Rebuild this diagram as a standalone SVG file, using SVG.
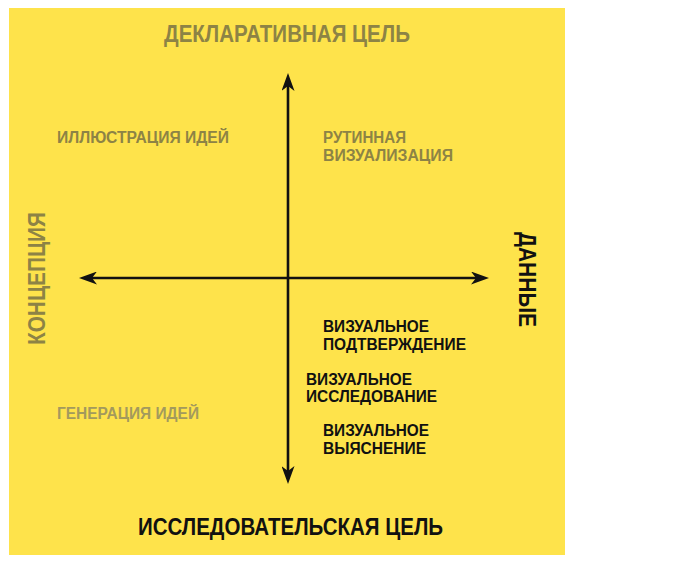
<svg xmlns="http://www.w3.org/2000/svg" width="678" height="565" viewBox="0 0 678 565">
  <style>
    .t { font-family: "Liberation Sans", Arial, sans-serif; font-weight: bold; }
    .big { font-size: 23.5px; }
    .sm { font-size: 16px; }
    .grey { fill: #8d8345; }
    .grey2 { fill: #a39a5d; }
    .blk { fill: #111111; }
    .axis { stroke: #111111; stroke-width: 2.6; fill: none; marker-end: url(#ah); marker-start: url(#ah); }
  </style>
  <defs>
    <marker id="ah" viewBox="0 -6.5 18 13" refX="5" refY="0" markerWidth="18" markerHeight="13" markerUnits="userSpaceOnUse" orient="auto-start-reverse">
      <path d="M0,-6.5 L18,0 L0,6.5 L5,0 Z" fill="#111111"/>
    </marker>
  </defs>
  <rect x="0" y="0" width="678" height="565" fill="#ffffff"/>
  <rect x="9" y="8" width="556" height="547" fill="#fee34b"/>

  <g id="connectors">
    <line class="axis" x1="288" y1="86" x2="288" y2="471"/>
    <line class="axis" x1="92" y1="278" x2="476" y2="278"/>
  </g>

  <g id="declarative-goal">
    <text class="t big grey" x="164" y="42" textLength="246" lengthAdjust="spacingAndGlyphs">ДЕКЛАРАТИВНАЯ ЦЕЛЬ</text>
  </g>
  <g id="exploratory-goal">
    <text class="t big blk" x="138" y="535" textLength="305" lengthAdjust="spacingAndGlyphs">ИССЛЕДОВАТЕЛЬСКАЯ ЦЕЛЬ</text>
  </g>
  <g id="concept">
    <text class="t big grey" transform="translate(45 278.5) rotate(-90)" x="-66.5" y="0" textLength="133" lengthAdjust="spacingAndGlyphs">КОНЦЕПЦИЯ</text>
  </g>
  <g id="data">
    <text class="t big blk" transform="translate(519 279.5) rotate(90)" x="-47.5" y="0" textLength="95" lengthAdjust="spacingAndGlyphs">ДАННЫЕ</text>
  </g>

  <g id="idea-illustration">
    <text class="t sm grey" x="57" y="143" textLength="172" lengthAdjust="spacingAndGlyphs">ИЛЛЮСТРАЦИЯ ИДЕЙ</text>
  </g>
  <g id="routine-visualization">
    <text class="t sm grey" x="323" y="143" textLength="83" lengthAdjust="spacingAndGlyphs">РУТИННАЯ</text>
    <text class="t sm grey" x="323" y="161" textLength="130" lengthAdjust="spacingAndGlyphs">ВИЗУАЛИЗАЦИЯ</text>
  </g>
  <g id="idea-generation">
    <text class="t sm grey2" x="57" y="419" textLength="142" lengthAdjust="spacingAndGlyphs">ГЕНЕРАЦИЯ ИДЕЙ</text>
  </g>
  <g id="visual-confirmation">
    <text class="t sm blk" x="323" y="332" textLength="106" lengthAdjust="spacingAndGlyphs">ВИЗУАЛЬНОЕ</text>
    <text class="t sm blk" x="323" y="349.5" textLength="143" lengthAdjust="spacingAndGlyphs">ПОДТВЕРЖДЕНИЕ</text>
  </g>
  <g id="visual-exploration">
    <text class="t sm blk" x="306" y="384.5" textLength="106" lengthAdjust="spacingAndGlyphs">ВИЗУАЛЬНОЕ</text>
    <text class="t sm blk" x="306" y="402" textLength="131" lengthAdjust="spacingAndGlyphs">ИССЛЕДОВАНИЕ</text>
  </g>
  <g id="visual-clarification">
    <text class="t sm blk" x="323" y="436" textLength="106" lengthAdjust="spacingAndGlyphs">ВИЗУАЛЬНОЕ</text>
    <text class="t sm blk" x="323" y="453.5" textLength="103" lengthAdjust="spacingAndGlyphs">ВЫЯСНЕНИЕ</text>
  </g>
</svg>
